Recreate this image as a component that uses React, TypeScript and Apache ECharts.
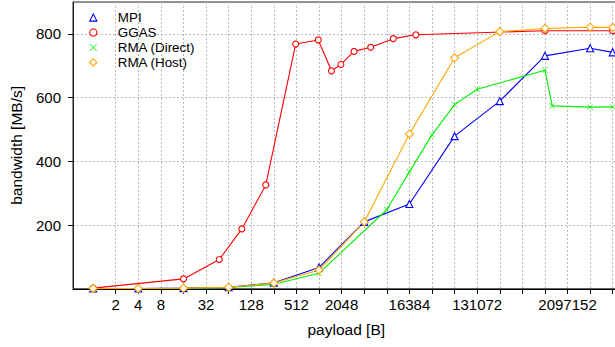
import React, { useEffect, useRef } from "react";
import * as echarts from "echarts";

// ---- data ----
const mpiX = [1, 4, 16, 64, 256, 1024, 4096, 16384, 65536, 262144, 1048576, 4194304, 8388608];
const mpiY = [1, 1, 2, 5, 19, 67, 210, 266, 479, 589, 731, 755, 742];

const ggasX = [1, 16, 48, 96, 200, 500, 1000, 1500, 2000, 3000, 5000, 10000, 20000, 1048576, 8388608];
const ggasY = [2, 31, 92, 188, 326, 768, 781, 684, 704, 745, 758, 785, 797, 810, 810];

const directX = [1, 4, 16, 64, 256, 1024, 8192, 16384, 32768, 65536, 131072, 1048576, 1310720, 4194304, 8388608];
const directY = [0.5, 1, 1.5, 4, 14, 49, 248, 367, 483, 578, 626, 686, 574, 570, 571];

const hostX = [1, 4, 16, 64, 256, 1024, 4096, 16384, 65536, 262144, 1048576, 4194304, 8388608];
const hostY = [1, 1, 2, 5, 18, 59, 210, 486, 725, 807, 817, 821, 820];

const seriesNames = ["MPI", "GGAS", "RMA (Direct)", "RMA (Host)"];

const xTickValues = [
  2, 4, 8, 16, 32, 64, 128, 256, 512, 1024, 2048, 4096, 8192, 16384, 32768, 65536,
  131072, 262144, 524288, 1048576, 2097152, 4194304, 8388608,
];
const xLabelValues = [2, 4, 8, 32, 128, 512, 2048, 16384, 131072, 2097152];
const yTickValues = [200, 400, 600, 800];

const FONT = "'Liberation Sans', Arial, Helvetica, sans-serif";
const X_SYMBOL =
  "path://M0,0.7L0.7,0L5,4.3L9.3,0L10,0.7L5.7,5L10,9.3L9.3,10L5,5.7L0.7,10L0,9.3L4.3,5Z";

const zip = (xs: number[], ys: number[]) => xs.map((x, i) => [x, ys[i]]);

export default function App() {
  const ref = useRef<HTMLDivElement>(null);

  useEffect(() => {
    if (!ref.current) return;
    const chart = echarts.init(ref.current, undefined, { renderer: "svg" });
    const lineSeries = (
      name: string,
      data: number[][],
      color: string,
      symbol: string,
      symbolSize: number,
      hollow: boolean
    ) => ({
      name,
      type: "line",
      data,
      symbol,
      symbolSize,
      showAllSymbol: true,
      color,
      lineStyle: { color, width: 1.1 },
      itemStyle: hollow
        ? { color: "#fff", borderColor: color, borderWidth: 1.1 }
        : { color, borderWidth: 0 },
      emphasis: { disabled: true },
    });

    chart.setOption({
      animation: false,
      backgroundColor: "#fff",
      grid: {
        left: 63.8,
        right: 5.5,
        top: 2,
        bottom: 58.2,
        show: true,
        borderColor: "#222",
        borderWidth: 1,
        backgroundColor: "transparent",
      },
      legend: {
        orient: "vertical",
        left: 68.8,
        top: 5,
        itemWidth: 39,
        itemHeight: 9,
        itemGap: 0,
        data: seriesNames,
        lineStyle: { width: 0, opacity: 0 },
        itemStyle: { borderWidth: 1.1 },
        textStyle: { fontFamily: FONT, fontSize: 13.4, color: "#000", lineHeight: 15 },
      },
      xAxis: {
        type: "log",
        logBase: 2,
        min: Math.pow(2, -0.89),
        max: Math.pow(2, 23.3),
        name: "payload [B]",
        nameLocation: "middle",
        nameGap: 33,
        nameTextStyle: { fontFamily: FONT, fontSize: 15.5, color: "#000" },
        axisLine: { show: true, onZero: false, lineStyle: { color: "#000", width: 1 } },
        axisTick: {
          show: true,
          customValues: xTickValues,
          length: 5,
          lineStyle: { color: "#000", width: 1 },
        },
        axisLabel: {
          customValues: xLabelValues,
          formatter: (v: number) => String(Math.round(v)),
          fontFamily: FONT,
          fontSize: 15,
          color: "#000",
          margin: 8,
        },
        splitLine: { show: true, lineStyle: { color: "#bbb", type: [2, 2], width: 1 } },
      },
      yAxis: {
        type: "value",
        min: 0,
        max: 900,
        name: "bandwidth [MB/s]",
        nameLocation: "middle",
        nameGap: 49,
        nameTextStyle: { fontFamily: FONT, fontSize: 15.5, color: "#000" },
        axisLine: { show: true, lineStyle: { color: "#222", width: 1 } },
        axisTick: {
          show: true,
          customValues: yTickValues,
          length: 5,
          lineStyle: { color: "#000", width: 1 },
        },
        axisLabel: {
          customValues: yTickValues,
          fontFamily: FONT,
          fontSize: 15,
          color: "#000",
          margin: 12,
        },
        splitLine: { show: true, lineStyle: { color: "#bbb", type: [2, 2], width: 1 } },
      },
      series: [
        lineSeries("MPI", zip(mpiX, mpiY), "#0000ff", "triangle", 7, true),
        lineSeries("GGAS", zip(ggasX, ggasY), "#ff0000", "circle", 6, true),
        lineSeries("RMA (Direct)", zip(directX, directY), "#00ee00", X_SYMBOL, 6, false),
        lineSeries("RMA (Host)", zip(hostX, hostY), "#ffa500", "diamond", 8, true),
      ],
    });
    return () => chart.dispose();
  }, []);

  return (
    <div
      style={{
        position: "fixed",
        left: 0,
        top: 0,
        width: 615,
        height: 347,
        overflow: "hidden",
        background: "#fff",
      }}
    >
      <div ref={ref} style={{ width: 625, height: 347 }} />
    </div>
  );
}
